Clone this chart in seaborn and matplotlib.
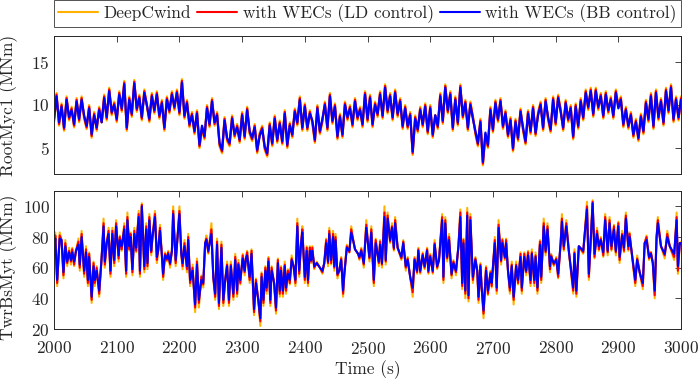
import matplotlib

matplotlib.use("Agg")
import matplotlib.pyplot as plt
import numpy as np
import pandas
import seaborn as sns
from matplotlib.axes import Axes
from pandas import DataFrame

# Upper panel: blade root bending moment, sampled every 4 s
root_time = np.arange(2000, 3001, 4)
root_bb = [
    8.4, 11.0, 8.0, 9.8, 7.4, 10.6, 8.6, 9.4, 7.8, 10.4,
    8.4, 10.6, 8.8, 7.6, 9.6, 6.6, 8.8, 7.4, 9.4, 8.0,
    10.8, 8.6, 11.6, 9.2, 10.0, 8.4, 11.2, 9.6, 12.4, 7.4,
    10.6, 9.0, 12.5, 9.6, 10.8, 8.6, 11.4, 10.0, 8.4, 11.0,
    9.4, 11.2, 8.8, 10.2, 7.4, 10.6, 9.4, 11.2, 9.8, 11.4,
    9.2, 12.6, 8.8, 10.2, 7.8, 8.8, 7.0, 9.0, 5.4, 7.6,
    6.4, 9.6, 7.8, 10.4, 8.0, 8.8, 5.6, 4.8, 8.2, 6.2,
    5.6, 8.4, 6.6, 7.4, 6.0, 8.8, 6.4, 9.4, 7.0, 6.2,
    7.4, 4.8, 6.4, 7.2, 5.2, 4.4, 7.6, 5.6, 8.4, 6.0,
    7.8, 5.8, 9.0, 5.4, 7.6, 6.6, 9.2, 8.0, 10.6, 7.4,
    9.8, 7.4, 9.0, 8.2, 6.0, 9.6, 7.0, 8.4, 10.0, 7.4,
    11.0, 8.2, 9.8, 6.4, 8.6, 6.6, 10.0, 8.6, 9.6, 7.8,
    10.4, 8.6, 9.4, 7.8, 11.2, 8.4, 10.8, 7.8, 10.0, 9.0,
    11.2, 8.8, 12.0, 9.4, 11.0, 8.6, 11.4, 9.0, 10.4, 7.6,
    9.6, 7.6, 8.8, 4.6, 8.4, 7.2, 9.4, 7.8, 9.8, 7.0,
    9.6, 6.6, 8.8, 7.6, 11.0, 8.2, 12.0, 9.4, 11.2, 7.4,
    10.6, 8.0, 12.0, 8.8, 10.2, 7.4, 10.0, 8.4, 7.0, 5.6,
    8.0, 3.4, 6.8, 5.4, 9.4, 7.2, 10.2, 8.4, 10.4, 7.6,
    9.0, 6.6, 8.2, 5.0, 8.0, 6.2, 9.2, 7.4, 5.8, 9.0,
    7.0, 9.6, 6.8, 8.8, 10.0, 7.4, 10.4, 8.6, 7.2, 10.6,
    8.0, 10.8, 9.2, 7.4, 10.2, 8.4, 9.6, 6.4, 9.8, 7.6,
    10.4, 8.6, 11.4, 9.8, 11.6, 9.0, 11.6, 9.8, 11.0, 8.8,
    11.2, 9.4, 10.6, 8.8, 11.4, 9.6, 10.6, 7.8, 9.4, 7.6,
    8.8, 6.6, 8.0, 6.2, 8.6, 7.0, 10.2, 8.4, 11.0, 7.6,
    11.4, 8.6, 10.4, 8.0, 11.6, 9.4, 12.0, 8.4, 10.6, 8.6,
    10.6,
]
root_ld = [
    8.2, 11.2, 7.8, 10.0, 7.2, 10.8, 8.4, 9.6, 7.6, 10.6,
    8.2, 10.8, 8.6, 7.4, 9.8, 6.4, 9.0, 7.2, 9.6, 8.0,
    11.0, 8.4, 11.8, 9.0, 10.2, 8.2, 11.4, 9.4, 12.6, 7.2,
    10.8, 8.8, 12.7, 9.4, 11.0, 8.4, 11.6, 10.0, 8.2, 11.2,
    9.2, 11.4, 8.6, 10.4, 7.2, 10.8, 9.2, 11.4, 9.6, 11.6,
    9.0, 12.8, 8.6, 10.4, 7.6, 9.0, 6.8, 9.2, 5.2, 7.4,
    6.2, 9.8, 7.6, 10.6, 7.8, 9.0, 5.4, 4.6, 8.4, 6.0,
    5.4, 8.6, 6.4, 7.6, 5.8, 9.0, 6.2, 9.6, 6.8, 6.0,
    7.6, 4.6, 6.6, 7.4, 5.0, 4.2, 7.8, 5.4, 8.6, 5.8,
    8.0, 5.6, 9.2, 5.2, 7.8, 6.4, 9.4, 7.8, 10.8, 7.2,
    10.0, 7.2, 9.2, 8.0, 5.8, 9.8, 6.8, 8.2, 10.2, 7.2,
    11.2, 8.0, 10.0, 6.2, 8.8, 6.4, 10.2, 8.4, 9.8, 7.6,
    10.6, 8.4, 9.6, 7.6, 11.4, 8.2, 11.0, 7.6, 10.2, 8.8,
    11.4, 8.6, 12.2, 9.2, 11.2, 8.4, 11.6, 8.8, 10.6, 7.4,
    9.8, 7.4, 9.0, 4.4, 8.6, 7.0, 9.6, 7.6, 10.0, 6.8,
    9.8, 6.4, 8.8, 7.4, 11.2, 8.0, 12.2, 9.2, 11.4, 7.2,
    10.8, 7.8, 12.2, 8.6, 10.4, 7.2, 10.2, 8.6, 6.8, 5.4,
    8.2, 3.2, 6.6, 5.2, 9.6, 7.0, 10.4, 8.2, 10.6, 7.4,
    9.2, 6.4, 8.4, 4.8, 8.2, 6.0, 9.4, 7.2, 5.6, 9.2,
    6.8, 9.8, 6.6, 9.0, 10.2, 7.2, 10.6, 8.4, 7.0, 10.8,
    7.8, 11.0, 9.4, 7.2, 10.4, 8.2, 9.8, 6.2, 10.0, 7.4,
    10.6, 8.4, 11.6, 9.6, 11.8, 8.8, 11.8, 9.6, 11.2, 8.6,
    11.4, 9.2, 10.8, 8.6, 11.6, 9.8, 10.8, 7.6, 9.6, 7.4,
    9.0, 6.4, 8.2, 6.0, 8.8, 6.8, 10.4, 8.2, 11.2, 7.4,
    11.6, 8.4, 10.6, 7.8, 11.8, 9.2, 12.2, 8.2, 10.8, 8.4,
    10.8,
]
root_deepcwind = [
    8.0, 11.4, 7.6, 10.2, 7.0, 11.0, 8.2, 9.8, 7.4, 10.8,
    8.0, 11.0, 8.4, 7.2, 10.0, 6.2, 9.2, 7.0, 9.8, 8.0,
    11.2, 8.2, 12.0, 8.8, 10.4, 8.0, 11.6, 9.2, 12.8, 7.0,
    11.0, 8.6, 12.9, 9.2, 11.2, 8.2, 11.8, 10.0, 8.0, 11.4,
    9.0, 11.6, 8.4, 10.6, 7.0, 11.0, 9.0, 11.6, 9.4, 11.8,
    8.8, 13.0, 8.4, 10.6, 7.4, 9.2, 6.6, 9.4, 5.0, 7.2,
    6.0, 10.0, 7.4, 10.8, 7.6, 9.2, 5.2, 4.4, 8.6, 5.8,
    5.2, 8.8, 6.2, 7.8, 5.6, 9.2, 6.0, 9.8, 6.6, 5.8,
    7.8, 4.4, 6.8, 7.6, 4.8, 4.0, 8.0, 5.2, 8.8, 5.6,
    8.2, 5.4, 9.4, 5.0, 8.0, 6.2, 9.6, 7.6, 11.0, 7.0,
    10.2, 7.0, 9.4, 7.8, 5.6, 10.0, 6.6, 8.0, 10.4, 7.0,
    11.4, 7.8, 10.2, 6.0, 9.0, 6.2, 10.4, 8.2, 10.0, 7.4,
    10.8, 8.2, 9.8, 7.4, 11.6, 8.0, 11.2, 7.4, 10.4, 8.6,
    11.6, 8.4, 12.4, 9.0, 11.4, 8.2, 11.8, 8.6, 10.8, 7.2,
    10.0, 7.2, 9.2, 4.2, 8.8, 6.8, 9.8, 7.4, 10.2, 6.6,
    10.0, 6.2, 8.8, 7.2, 11.4, 7.8, 12.4, 9.0, 11.6, 7.0,
    11.0, 7.6, 12.4, 8.4, 10.6, 7.0, 10.4, 8.8, 6.6, 5.2,
    8.4, 3.0, 6.4, 5.0, 9.8, 6.8, 10.6, 8.0, 10.8, 7.2,
    9.4, 6.2, 8.6, 4.6, 8.4, 5.8, 9.6, 7.0, 5.4, 9.4,
    6.6, 10.0, 6.4, 9.2, 10.4, 7.0, 10.8, 8.2, 6.8, 11.0,
    7.6, 11.2, 9.6, 7.0, 10.6, 8.0, 10.0, 6.0, 10.2, 7.2,
    10.8, 8.2, 11.8, 9.4, 12.0, 8.6, 12.0, 9.4, 11.4, 8.4,
    11.6, 9.0, 11.0, 8.4, 11.8, 10.0, 11.0, 7.4, 9.8, 7.2,
    9.2, 6.2, 8.4, 5.8, 9.0, 6.6, 10.6, 8.0, 11.4, 7.2,
    11.8, 8.2, 10.8, 7.6, 12.0, 9.0, 12.4, 8.0, 11.0, 8.2,
    11.0,
]

# Lower panel: tower base moment, read at the turning points of the trace
twr_time = [
    2000, 2002, 2005, 2009, 2012, 2015, 2018, 2021, 2024, 2027,
    2029, 2032, 2035, 2039, 2041, 2044, 2048, 2051, 2054, 2056,
    2060, 2063, 2065, 2068, 2072, 2076, 2079, 2081, 2084, 2087,
    2090, 2093, 2096, 2099, 2103, 2105, 2108, 2112, 2115, 2117,
    2120, 2122, 2125, 2128, 2131, 2135, 2137, 2140, 2144, 2147,
    2149, 2152, 2155, 2157, 2161, 2164, 2166, 2169, 2172, 2174,
    2177, 2180, 2182, 2185, 2188, 2190, 2194, 2197, 2200, 2203,
    2205, 2208, 2212, 2214, 2217, 2221, 2225, 2228, 2231, 2235,
    2238, 2241, 2243, 2246, 2251, 2254, 2257, 2260, 2263, 2267,
    2270, 2273, 2276, 2279, 2282, 2286, 2289, 2292, 2294, 2297,
    2301, 2304, 2306, 2308, 2312, 2315, 2319, 2322, 2326, 2329,
    2331, 2334, 2337, 2339, 2342, 2345, 2347, 2351, 2354, 2357,
    2360, 2362, 2365, 2368, 2370, 2373, 2376, 2379, 2382, 2385,
    2388, 2391, 2394, 2396, 2400, 2403, 2405, 2408, 2410, 2412,
    2415, 2419, 2424, 2428, 2431, 2434, 2437, 2439, 2442, 2445,
    2447, 2449, 2452, 2455, 2458, 2461, 2463, 2467, 2471, 2474,
    2478, 2480, 2485, 2487, 2490, 2494, 2498, 2503, 2506, 2510,
    2513, 2518, 2520, 2523, 2527, 2529, 2532, 2536, 2539, 2542,
    2544, 2548, 2554, 2557, 2561, 2564, 2568, 2572, 2575, 2579,
    2581, 2584, 2588, 2591, 2595, 2597, 2600, 2604, 2607, 2611,
    2614, 2619, 2621, 2624, 2627, 2630, 2634, 2637, 2641, 2645,
    2648, 2651, 2653, 2656, 2659, 2661, 2664, 2668, 2672, 2675,
    2677, 2680, 2682, 2685, 2689, 2692, 2696, 2698, 2703, 2706,
    2709, 2713, 2715, 2719, 2721, 2724, 2727, 2730, 2733, 2737,
    2740, 2744, 2746, 2750, 2753, 2756, 2760, 2762, 2766, 2768,
    2771, 2775, 2777, 2781, 2784, 2787, 2791, 2793, 2797, 2801,
    2804, 2808, 2810, 2813, 2817, 2821, 2828, 2830, 2833, 2837,
    2844, 2846, 2850, 2853, 2856, 2859, 2862, 2866, 2869, 2872,
    2876, 2879, 2883, 2886, 2889, 2893, 2896, 2900, 2902, 2906,
    2909, 2912, 2916, 2918, 2921, 2927, 2930, 2934, 2939, 2942,
    2945, 2949, 2952, 2955, 2958, 2961, 2963, 2968, 2974, 2978,
    2982, 2989, 2993, 2995, 2998, 3000,
]
twr_bb = [
    69, 79, 52, 79, 78, 57, 74, 64, 70, 65,
    70, 64, 71, 75, 62, 80, 58, 70, 52, 67,
    41, 61, 52, 58, 45, 67, 87, 64, 76, 82,
    58, 82, 65, 87, 68, 78, 74, 85, 58, 91,
    74, 80, 59, 82, 73, 93, 58, 100, 61, 85,
    63, 91, 71, 80, 93, 67, 71, 84, 68, 56,
    68, 66, 69, 63, 71, 95, 65, 80, 95, 69,
    63, 74, 61, 78, 52, 58, 36, 62, 39, 52,
    50, 76, 78, 71, 82, 54, 43, 75, 37, 73,
    39, 52, 61, 39, 61, 43, 65, 45, 62, 52,
    66, 58, 66, 68, 54, 69, 33, 50, 38, 27,
    54, 39, 58, 47, 64, 39, 58, 50, 34, 63,
    45, 58, 45, 61, 47, 56, 52, 65, 61, 52,
    87, 58, 76, 83, 54, 71, 52, 71, 65, 71,
    61, 63, 60, 58, 63, 76, 64, 82, 65, 80,
    61, 78, 56, 58, 65, 45, 56, 73, 71, 83,
    76, 72, 69, 67, 71, 63, 86, 67, 83, 52,
    76, 64, 75, 63, 93, 65, 92, 78, 86, 73,
    89, 73, 67, 76, 61, 65, 54, 47, 65, 58,
    71, 58, 68, 61, 71, 58, 67, 58, 75, 61,
    65, 91, 54, 89, 67, 78, 56, 63, 58, 74,
    93, 50, 76, 45, 94, 42, 91, 54, 65, 58,
    41, 61, 47, 32, 58, 45, 56, 50, 76, 47,
    86, 65, 76, 67, 76, 58, 47, 61, 41, 61,
    52, 67, 47, 67, 58, 68, 52, 69, 52, 67,
    47, 75, 54, 87, 71, 85, 61, 67, 63, 65,
    56, 76, 90, 74, 87, 71, 47, 69, 45, 74,
    71, 80, 98, 56, 78, 102, 69, 82, 74, 78,
    70, 91, 71, 89, 74, 85, 71, 87, 67, 81,
    73, 92, 74, 80, 71, 52, 65, 57, 50, 76,
    78, 67, 69, 63, 45, 80, 89, 74, 69, 80,
    74, 69, 91, 61, 76, 76,
]
twr_ld = [
    68, 81, 50, 81, 78, 55, 76, 63, 71, 64,
    72, 62, 71, 77, 60, 82, 56, 72, 50, 69,
    39, 63, 50, 60, 43, 67, 89, 62, 76, 84,
    56, 84, 63, 89, 66, 80, 72, 87, 56, 93,
    72, 82, 57, 84, 71, 95, 56, 101, 59, 87,
    61, 93, 70, 80, 95, 65, 71, 86, 68, 54,
    69, 65, 70, 62, 71, 97, 63, 80, 97, 69,
    61, 76, 59, 80, 50, 60, 34, 64, 37, 54,
    49, 76, 79, 70, 85, 54, 41, 77, 35, 75,
    37, 52, 62, 37, 62, 41, 67, 43, 63, 50,
    68, 57, 66, 70, 52, 71, 31, 52, 38, 25,
    56, 37, 60, 45, 66, 37, 60, 50, 32, 65,
    43, 60, 43, 62, 45, 58, 50, 66, 61, 50,
    89, 56, 76, 85, 52, 73, 50, 73, 64, 73,
    60, 63, 60, 57, 63, 78, 63, 84, 63, 82,
    60, 80, 55, 58, 66, 43, 56, 74, 70, 85,
    76, 72, 69, 66, 72, 62, 88, 66, 85, 50,
    78, 63, 77, 62, 96, 64, 94, 77, 87, 72,
    91, 73, 66, 77, 60, 66, 54, 44, 66, 57,
    72, 57, 69, 60, 72, 57, 68, 57, 76, 60,
    65, 93, 52, 91, 66, 80, 55, 64, 57, 74,
    96, 48, 78, 43, 96, 40, 93, 52, 66, 58,
    39, 62, 47, 30, 60, 43, 57, 48, 78, 45,
    88, 64, 78, 66, 78, 58, 45, 62, 39, 62,
    50, 69, 45, 69, 57, 70, 50, 70, 50, 68,
    45, 77, 52, 89, 70, 87, 59, 68, 62, 66,
    54, 76, 92, 72, 89, 71, 45, 70, 43, 74,
    70, 80, 100, 54, 78, 103, 67, 84, 72, 79,
    68, 93, 70, 91, 72, 87, 70, 89, 65, 82,
    71, 94, 72, 82, 71, 50, 66, 57, 48, 76,
    80, 66, 70, 63, 42, 80, 91, 74, 68, 82,
    74, 67, 93, 58, 76, 76,
]
twr_deepcwind = [
    67, 83, 48, 83, 78, 53, 78, 61, 73, 62,
    73, 61, 71, 79, 58, 84, 54, 74, 48, 70,
    37, 64, 48, 61, 41, 67, 92, 60, 76, 86,
    54, 86, 61, 91, 64, 81, 71, 89, 54, 96,
    71, 83, 55, 86, 70, 97, 54, 102, 57, 89,
    59, 95, 68, 80, 97, 63, 71, 88, 68, 52,
    70, 64, 71, 60, 71, 100, 61, 80, 100, 69,
    59, 78, 57, 82, 48, 62, 31, 66, 34, 55,
    47, 76, 81, 69, 89, 54, 39, 79, 33, 77,
    35, 52, 64, 35, 64, 39, 69, 41, 65, 49,
    69, 55, 66, 71, 50, 72, 29, 53, 38, 22,
    57, 35, 61, 43, 67, 35, 61, 50, 30, 66,
    41, 61, 41, 64, 43, 59, 49, 68, 61, 48,
    92, 54, 76, 87, 50, 74, 48, 74, 63, 74,
    59, 64, 60, 56, 63, 79, 61, 86, 62, 84,
    58, 82, 53, 58, 67, 41, 56, 75, 70, 87,
    76, 72, 69, 65, 73, 60, 91, 64, 87, 48,
    79, 61, 78, 60, 100, 62, 96, 76, 89, 71,
    93, 73, 65, 78, 58, 67, 54, 41, 67, 56,
    73, 56, 70, 59, 73, 56, 69, 56, 78, 59,
    65, 95, 50, 93, 64, 82, 53, 65, 55, 74,
    98, 46, 79, 40, 99, 38, 95, 50, 67, 58,
    37, 63, 47, 27, 61, 42, 58, 47, 80, 43,
    91, 62, 79, 65, 79, 58, 43, 64, 36, 64,
    49, 70, 43, 70, 55, 71, 48, 72, 48, 70,
    43, 78, 50, 92, 68, 89, 57, 69, 61, 67,
    53, 76, 95, 71, 91, 71, 43, 72, 41, 74,
    69, 80, 103, 52, 78, 104, 66, 86, 71, 80,
    67, 95, 68, 93, 71, 88, 68, 90, 63, 84,
    70, 96, 71, 83, 71, 48, 68, 57, 46, 76,
    81, 65, 70, 63, 40, 80, 93, 74, 66, 84,
    74, 65, 96, 56, 76, 77,
]

series_labels = ["DeepCwind", "with WECs (LD control)", "with WECs (BB control)"]
series_colors = ["#FFB300", "#FF0000", "#0000FF"]
x_ticks = list(range(2000, 3001, 100))
root_y_ticks = [5, 10, 15]
twr_y_ticks = [20, 40, 60, 80, 100]

AXIS_COLOR = "#262626"
FONT_SIZE = 12.5


def build_frame(time, columns: list) -> DataFrame:
    frames: list[DataFrame] = []
    for label, values in zip(series_labels, columns):
        frames.append(DataFrame({"time": time, "value": values, "series": label}))
    return pandas.concat(frames, ignore_index=True)


def draw_panel(ax: Axes, df: DataFrame, ylabel: str, ylim, yticks, lw: float) -> None:
    # Draw in legend order so the BB trace ends up on top
    for label, color in zip(series_labels, series_colors):
        sns.lineplot(
            data=df[df["series"] == label],
            x="time",
            y="value",
            color=color,
            linewidth=lw,
            estimator=None,
            sort=False,
            legend=False,
            ax=ax,
        )

    ax.set_xlim(2000, 3000)
    ax.set_ylim(*ylim)
    ax.set_xticks(x_ticks)
    ax.set_yticks(yticks)
    ax.set_ylabel(ylabel, fontsize=FONT_SIZE, color=AXIS_COLOR)
    ax.set_xlabel("")
    ax.tick_params(
        direction="in",
        top=True,
        right=True,
        length=4,
        width=0.6,
        color=AXIS_COLOR,
        labelcolor=AXIS_COLOR,
        labelsize=FONT_SIZE,
    )
    ax.tick_params(axis="x", pad=8)
    ax.tick_params(axis="y", pad=3)
    for spine in ax.spines.values():
        spine.set_visible(True)
        spine.set_color(AXIS_COLOR)
        spine.set_linewidth(0.7)


def plot() -> None:
    sns.set_style("white")
    plt.rcParams["font.family"] = ["cmr10", "DejaVu Serif"]
    plt.rcParams["axes.formatter.use_mathtext"] = True

    fig = plt.figure(figsize=(6.99, 3.82), dpi=100)
    ax_top: Axes = fig.add_axes([0.0773, 0.5445, 0.897, 0.3613])
    ax_bot: Axes = fig.add_axes([0.0773, 0.1387, 0.897, 0.3613])

    root_df = build_frame(root_time, [root_deepcwind, root_ld, root_bb])
    twr_df = build_frame(twr_time, [twr_deepcwind, twr_ld, twr_bb])

    # The top trace is a dense band, so draw it a little heavier
    draw_panel(ax_top, root_df, "RootMyc1 (MNm)", (2, 18), root_y_ticks, lw=1.6)
    draw_panel(ax_bot, twr_df, "TwrBsMyt (MNm)", (20, 110), twr_y_ticks, lw=1.5)

    # Both y labels sit at the same distance from the left edge
    ax_top.yaxis.set_label_coords(-0.058, 0.5)
    ax_bot.yaxis.set_label_coords(-0.058, 0.45)

    ax_top.tick_params(labelbottom=False)
    ax_bot.set_xlabel("Time (s)", fontsize=FONT_SIZE, color=AXIS_COLOR, labelpad=2)

    # Legend spans the width of the axes, above the top panel
    legend = fig.legend(
        handles=ax_top.get_lines()[:3],
        labels=series_labels,
        loc="lower left",
        bbox_to_anchor=(0.0773, 0.929, 0.897, 0.0654),
        mode="expand",
        ncol=3,
        fontsize=FONT_SIZE,
        frameon=True,
        fancybox=False,
        handlelength=2.3,
        handletextpad=0.3,
        borderaxespad=0.0,
        borderpad=0.25,
        columnspacing=0.5,
    )
    legend.get_frame().set_edgecolor(AXIS_COLOR)
    legend.get_frame().set_linewidth(0.7)
    for handle in legend.legend_handles:
        handle.set_linewidth(1.5)
    for text in legend.get_texts():
        text.set_color(AXIS_COLOR)

    fig.savefig("out.png", dpi=100)
    plt.close(fig)


def main() -> None:
    plot()


if __name__ == "__main__":
    main()
